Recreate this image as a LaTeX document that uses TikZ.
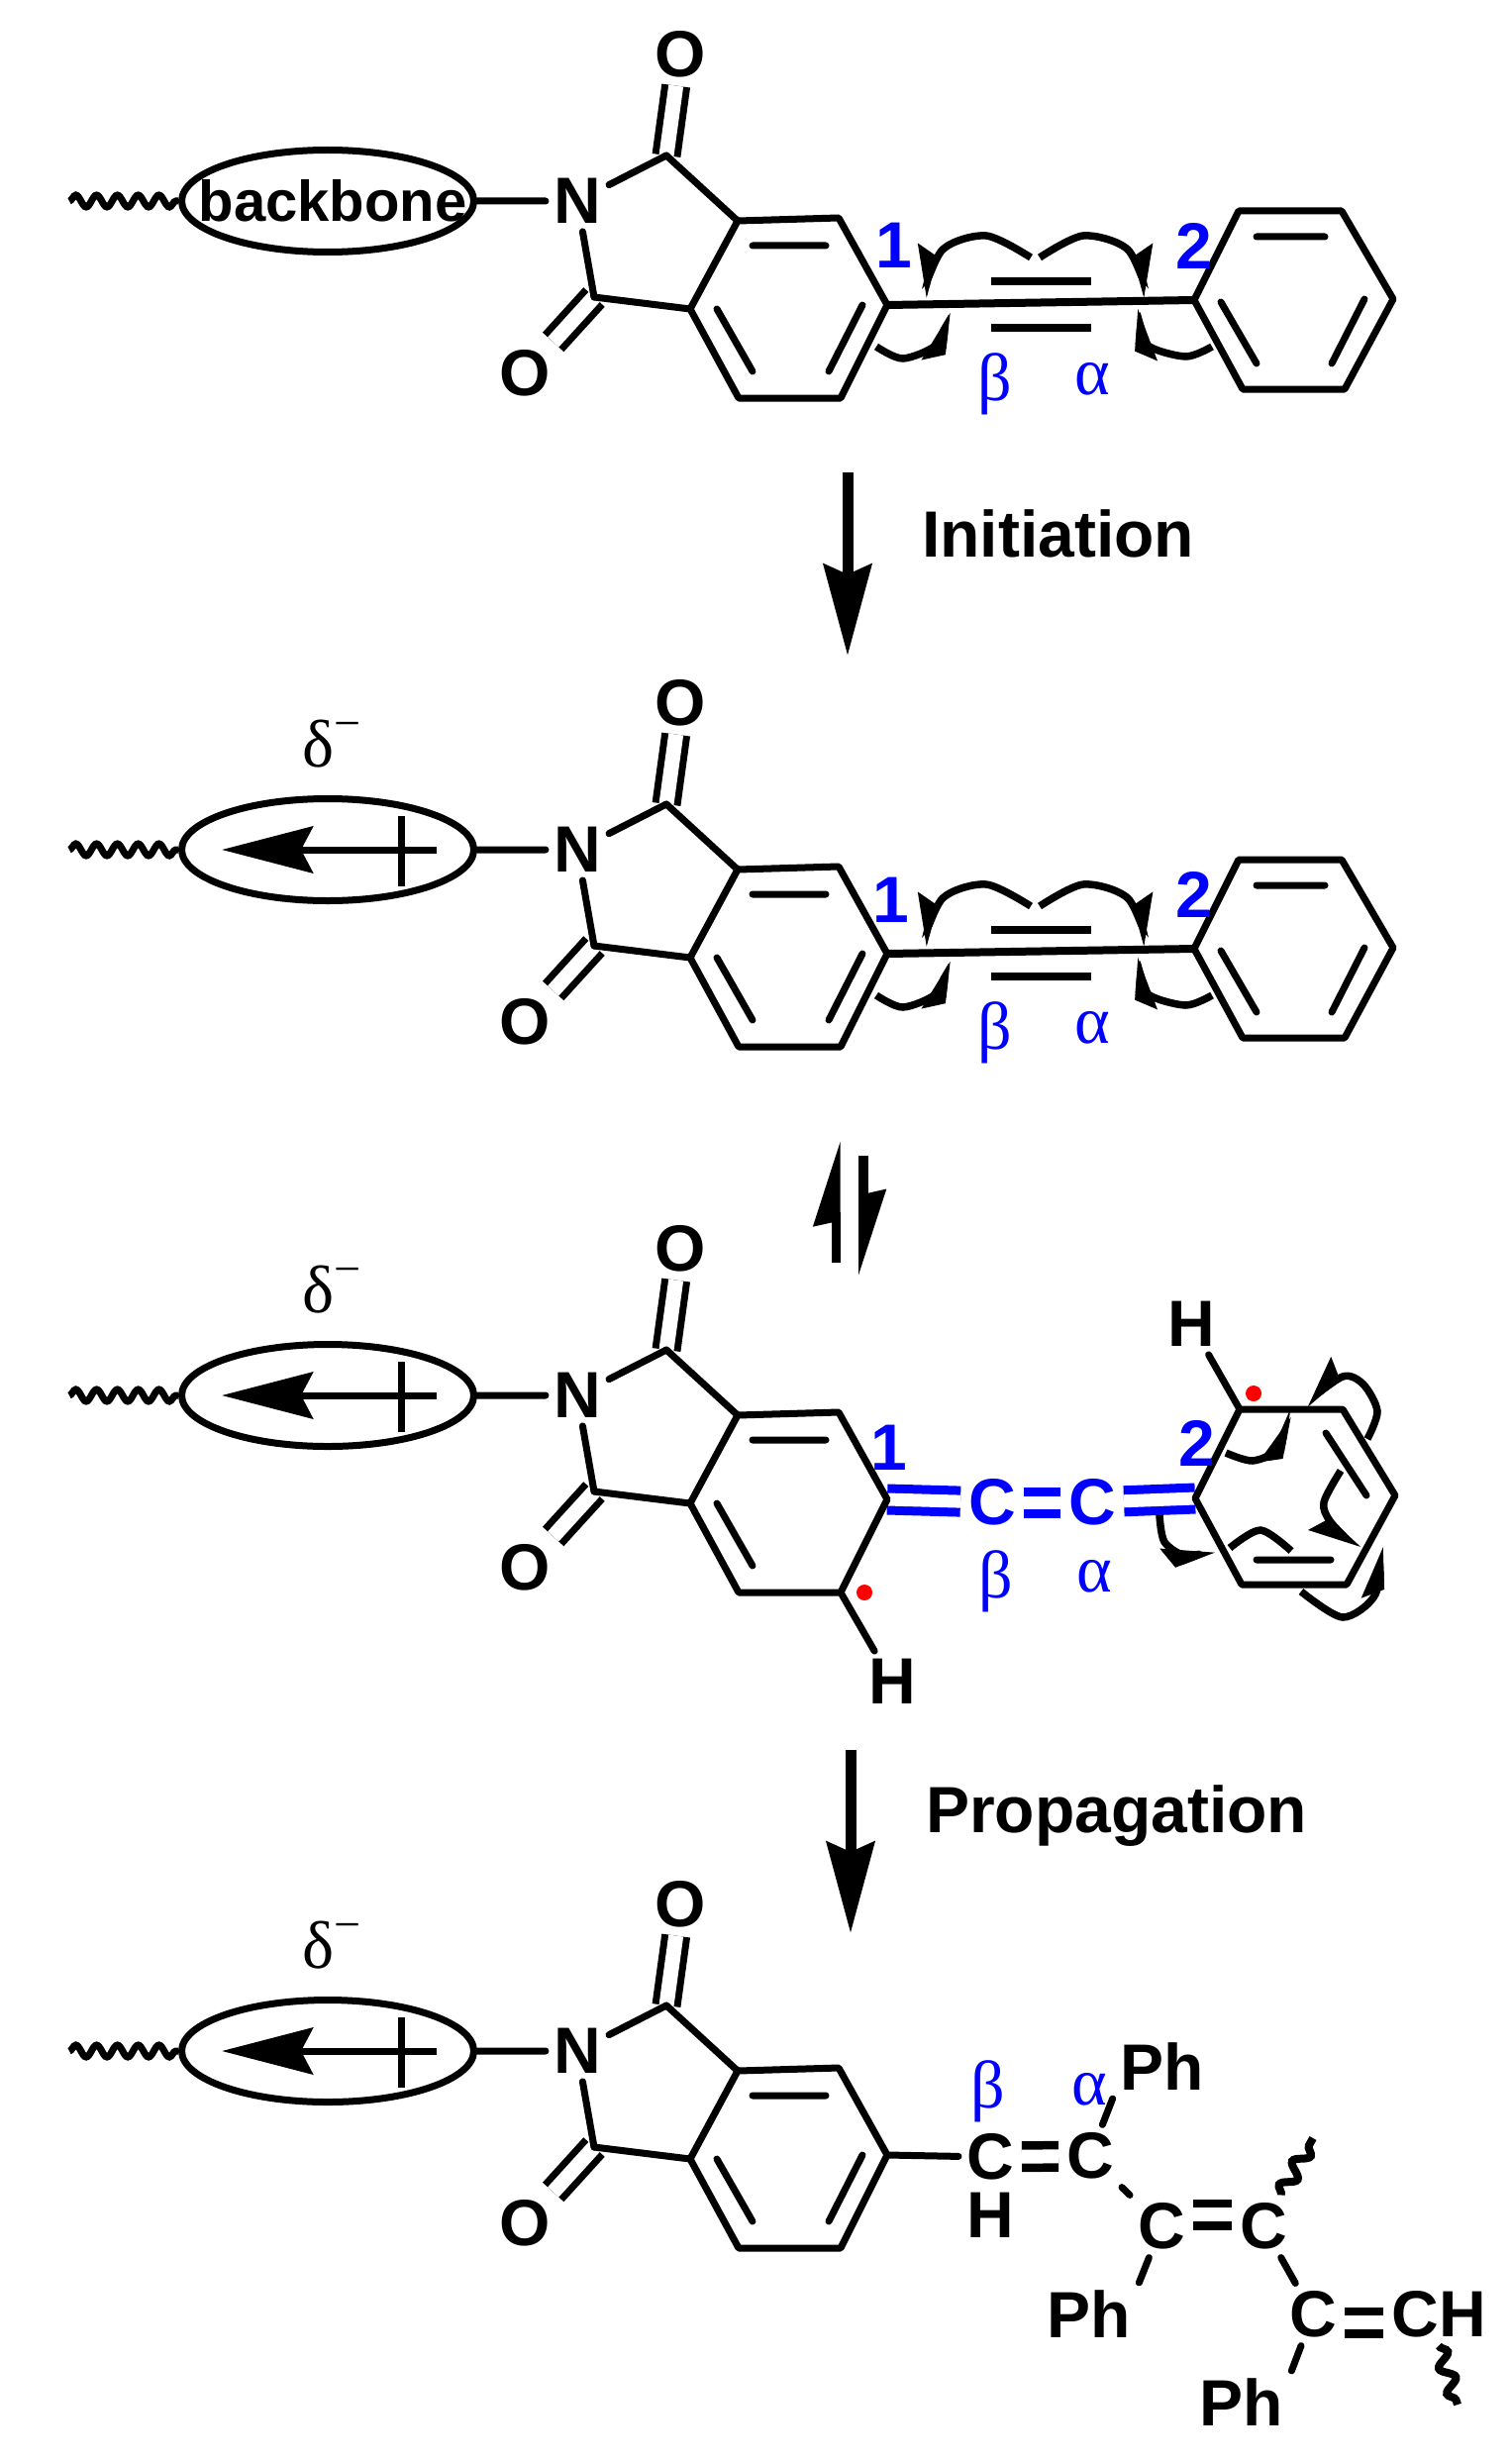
\documentclass[tikz,border=0pt]{standalone}
\usepackage{fontspec}
\setmainfont{Liberation Sans}
\newfontfamily\greekfont{Liberation Serif}
\usetikzlibrary{arrows.meta,shapes.geometric,decorations.pathmorphing,backgrounds}

\newcommand\atomfont{\fontsize{66}{70}\selectfont\bfseries}
\newcommand\greekbig{\greekfont\fontsize{68}{70}\selectfont}

\tikzset{
  atom/.style={font=\atomfont,inner sep=8pt},
  blueatom/.style={atom,text=blue},
  greek/.style={font=\greekbig,text=blue,inner sep=0pt},
  bond/.style={line width=7pt,line cap=round,line join=round},
  dbond/.style={line width=7pt,double,double distance=15pt},
  bluebond/.style={line width=9pt,double,double distance=13pt,draw=blue},
  chainbond/.style={line width=8.5pt,double,double distance=14pt},
  wavy/.style={decorate,decoration={snake,segment length=21pt,amplitude=6pt},line width=7pt},
  endwave/.style={decorate,decoration={snake,segment length=27pt,amplitude=7pt},line width=8pt},
  curly/.style={line width=7.5pt,-{Stealth[harpoon,length=42pt,width=38pt,inset=6pt]}},
  curlyrev/.style={line width=7.5pt,-{Stealth[harpoon,swap,length=42pt,width=38pt,inset=6pt]}},
  bigarrow/.style={line width=11pt,-{Stealth[length=92pt,width=48pt,inset=10pt]}},
  halfarrow/.style={-{Stealth[harpoon,length=71pt,width=44pt,inset=4pt]}},
  % phthalimide core with its ellipse, drawn at the height of the first row
  core/.pic={
    \coordinate (v1) at (745,223);
    \coordinate (v2) at (847,220);
    \coordinate (v3) at (896,308);
    \coordinate (v4) at (849,402);
    \coordinate (v5) at (746,402);
    \coordinate (v6) at (697,312);
    \coordinate (co1) at (673,157);
    \coordinate (co2) at (600,300);
    \coordinate (tail) at (70,203);
    \node[atom] (N) at (583,203) {N};
    \node[atom] (O1) at (687,55) {O};
    \node[atom] (O2) at (530,377) {O};
    \node[draw,ellipse,line width=7pt,minimum width=295pt,minimum height=103pt,inner sep=0pt] (E) at (331,203) {};
    \draw[dbond] (co1) -- (O1);
    \draw[dbond] (co2) -- (O2);
    \draw[bond] (v1) -- (v2) -- (v3) -- (v4) -- (v5) -- (v6) -- cycle;
    \draw[bond] (co1) -- (v1) (co2) -- (v6);
    \draw[bond] (N) -- (co1) (N) -- (co2) (E) -- (N);
    \draw[wavy] (tail) -- (E);
    \draw[bond] (760,248) -- (834,248) (724,312) -- (760,375);
  },
  innerbar/.pic={\draw[bond] (871,308) -- (837,375);},
  % dipole inside the ellipse
  dipole/.pic={
    \coordinate (plus) at (441,203);
    \coordinate (minus) at (224,203);
    \draw[line width=7pt,-{Stealth[length=92pt,width=47pt,inset=12pt]}] (plus) -- (minus);
    \draw[line width=7pt] (405,169) -- (405,240);
    \node[font=\greekfont\fontsize{68}{70}\selectfont,inner sep=0pt,anchor=base] (delta) at (335,119)
      {δ\raisebox{28pt}{\fontsize{48}{50}\selectfont −}};
  },
  % triple bond and phenyl ring
  alkyne/.pic={
    \coordinate (p1) at (1206,303);
    \coordinate (p2) at (1251,213);
    \coordinate (p3) at (1355,213);
    \coordinate (p4) at (1407,302);
    \coordinate (p5) at (1358,393);
    \coordinate (p6) at (1255,393);
    \draw[bond] (p1) -- (p2) -- (p3) -- (p4) -- (p5) -- (p6) -- cycle;
    \draw[bond] (1269,239) -- (1338,239) (1233,305) -- (1269,367) (1378,302) -- (1345,367);
    \draw[line width=8pt] (896,308) -- (p1);
    \draw[line width=8.5pt] (1001,284) -- (1102,284) (1001,331) -- (1102,331);
    \node[blueatom,inner sep=0pt] (two) at (1206,248) {2};
    \node[greek] (beta) at (1005,388) {β};
    \node[greek] (alpha) at (1103,383) {α};
    \draw[curlyrev] plot[smooth] coordinates {(1041,260) (996,238) (952,252) (932,300)};
    \draw[curly] plot[smooth] coordinates {(1050,260) (1094,238) (1139,252) (1159,300)};
    \draw[curly] plot[smooth] coordinates {(885,350) (912,362) (947,347) (956,315)};
    \draw[curlyrev] plot[smooth] coordinates {(1224,350) (1197,360) (1157,347) (1153,312)};
  },
}

\begin{document}
\begin{tikzpicture}[x=1pt,y=-1pt]
  \useasboundingbox (0,0) rectangle (1525,2488);

  % Four rows with the same core
  \foreach \row/\dy in {a/0,b/655,c/1206,d/1868}{
    \pic (\row) at (0,\dy) {core};
  }
  \foreach \row/\dy in {a/0,b/655,d/1868}{
    \pic (\row bar) at (0,\dy) {innerbar};
  }
  \foreach \row/\dy in {b/655,c/1206,d/1868}{
    \pic (\row dip) at (0,\dy) {dipole};
  }
  \foreach \row/\dy in {a/0,b/655}{
    \pic (\row tail) at (0,\dy) {alkyne};
  }
  \node[blueatom,inner sep=0pt] (a1) at (903,248) {1};
  \node[blueatom,inner sep=0pt] (b1) at (900,909) {1};
  \node[atom,inner sep=0pt] (bb) at (336,203) {\fontsize{58}{60}\selectfont backbone};

  % Reaction arrows
  \coordinate (inita) at (856,477);
  \coordinate (initb) at (856,662);
  \draw[bigarrow] (inita) -- (initb);
  \node[atom,inner sep=0pt,anchor=base west] (init) at (931,562) {Initiation};

  \coordinate (eqa) at (844,1275);
  \coordinate (eqb) at (844,1152);
  \coordinate (eqc) at (872,1167);
  \coordinate (eqd) at (872,1289);
  \draw[line width=9pt,halfarrow] (eqa) -- (eqb);
  \draw[line width=10pt,halfarrow] (eqc) -- (eqd);

  \coordinate (propa) at (859,1767);
  \coordinate (propb) at (859,1952);
  \draw[bigarrow] (propa) -- (propb);
  \node[atom,inner sep=0pt,anchor=base west] (prop) at (935,1850) {Propagation};

  % Third row
  \coordinate (q1) at (1207,1513);
  \coordinate (q2) at (1252,1423);
  \coordinate (q3) at (1356,1423);
  \coordinate (q4) at (1409,1510);
  \coordinate (q5) at (1360,1600);
  \coordinate (q6) at (1254,1600);
  \node[blueatom] (cb) at (1002,1517) {C};
  \node[blueatom] (ca) at (1103,1517) {C};
  \node[atom] (hl) at (901,1698) {H};
  \node[atom] (hr) at (1203,1337) {H};
  \begin{scope}[on background layer]
    \draw[bluebond] (cv3) -- (cb);
    \draw[bluebond] (cb) -- (ca);
    \draw[bluebond] (ca) -- (q1);
  \end{scope}
  \draw[bond] (q1) -- (q2) -- (q3) -- (q4) -- (q5) -- (q6) -- cycle;
  \draw[bond] (1339,1447) -- (1380,1510) (1269,1575) -- (1344,1575);
  \draw[bond] (cv4) -- (hl) (q2) -- (hr);
  \node[blueatom,inner sep=0pt] (c1) at (898,1462) {1};
  \node[blueatom,inner sep=0pt] (c2) at (1209,1457) {2};
  \node[greek] (cbeta) at (1006,1597) {β};
  \node[greek] (calpha) at (1105,1592) {α};
  \fill[red] (873,1608) circle[radius=8pt];
  \fill[red] (1266,1407) circle[radius=8pt];
  \draw[curly] plot[smooth] coordinates {(1238,1467) (1265,1475) (1290,1463) (1300,1430)};
  \draw[curlyrev] plot[smooth] coordinates {(1381,1453) (1391,1425) (1377,1398) (1356,1390) (1318,1418)};
  \draw[curlyrev] plot[smooth] coordinates {(1354,1485) (1337,1517) (1344,1537) (1372,1565)};
  \draw[line width=7.5pt] plot[smooth] coordinates {(1242,1563) (1273,1545) (1304,1566)};
  \draw[curly] plot[smooth] coordinates {(1171,1530) (1176,1557) (1198,1571) (1226,1564)};
  \draw[curly] plot[smooth] coordinates {(1314,1607) (1356,1633) (1389,1610) (1393,1562)};

  % Fourth row
  \node[atom] (d1) at (1000,2178) {C};
  \node[atom] (d2) at (1101,2177) {C};
  \node[atom] (d3) at (1173,2248) {C};
  \node[atom] (d4) at (1276,2248) {C};
  \node[atom] (d5) at (1326,2337) {C};
  \node[atom] (d6) at (1453,2337) {CH};
  \node[atom,inner sep=0pt] (dh) at (1000,2237) {H};
  \node[atom] (ph1) at (1174,2087) {Ph};
  \node[atom] (ph2) at (1100,2337) {Ph};
  \node[atom] (ph3) at (1254,2426) {Ph};
  \node[greek] (dbeta) at (998,2112) {β};
  \node[greek] (dalpha) at (1100,2110) {α};
  \coordinate (enda) at (1326,2159);
  \coordinate (endb) at (1472,2428);
  \draw[chainbond] (d1) -- (d2);
  \draw[chainbond] ([yshift=12pt]d3.east) -- ([yshift=12pt]d4.west);
  \draw[chainbond] ([yshift=-8pt]d5.east) -- ([yshift=-8pt]d6.west);
  \draw[bond] (dv3) -- (d1);
  \draw[bond] (d2) -- (d3) (d4) -- (d5);
  \draw[bond] (d2) -- (ph1.south west) (d3) -- (ph2.north east) (d5) -- (ph3.north east);
  \draw[endwave] (d4) -- (enda);
  \draw[endwave] (d6.south) -- (endb);
\end{tikzpicture}
\end{document}
